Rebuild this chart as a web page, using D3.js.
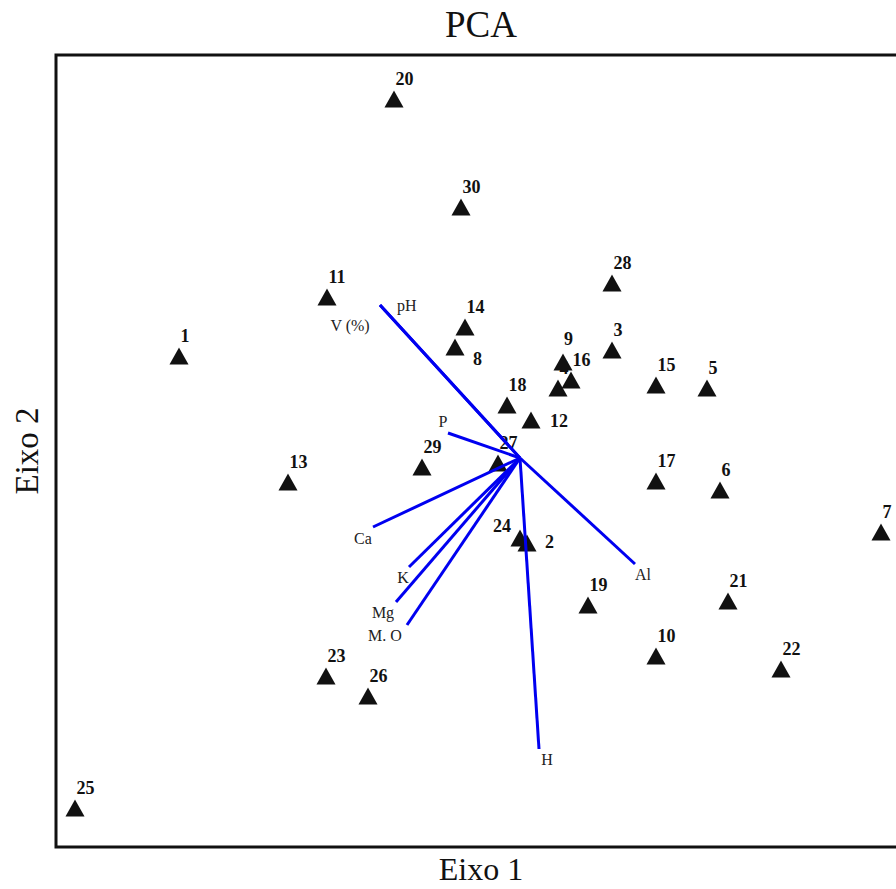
<!DOCTYPE html>
<html>
  <head>
    <meta charset="UTF-8">
    <title>PCA</title>
    <script src="https://d3js.org/d3.v7.min.js"></script>
    <style>
      body { margin: 0; background: #fff; }
      text { font-family: "Liberation Serif", "Times New Roman", serif; }
    </style>
  </head>
  <body>
    <div id="chart-container"></div>
  <script type="text/javascript">

    // Sample scores (Eixo 1, Eixo 2)
    const sampleIds = [1, 2, 3, 4, 5, 6, 7, 8, 9, 10,
                       11, 12, 13, 14, 15, 16, 17, 18, 19, 20,
                       21, 22, 23, 24, 25, 26, 27, 28, 29, 30];
    const axis1 = [-3.41, 0.07, 0.92, 0.38, 1.87, 2.00, 3.61, -0.65, 0.43, 1.36,
                   -1.93, 0.11, -2.32, -0.55, 1.36, 0.51, 1.36, -0.13, 0.68, -1.26,
                   2.08, 2.61, -1.94, 0.00, -4.45, -1.52, -0.22, 0.92, -0.98, -0.59];
    const axis2 = [1.02, -0.85, 1.08, 0.70, 0.70, -0.32, -0.74, 1.11, 0.96, -1.98,
                   1.61, 0.38, -0.24, 1.31, 0.73, 0.78, -0.23, 0.53, -1.47, 3.59,
                   -1.43, -2.11, -2.18, -0.80, -3.50, -2.38, -0.05, 1.75, -0.09, 2.51];

    // Soil variable loadings
    const variables = ["pH", "V (%)", "P", "Ca", "K", "Mg", "M. O", "H", "Al"];
    const load1 = [-1.40, -1.40, -0.72, -1.47, -1.11, -1.24, -1.13, 0.19, 1.15];
    const load2 = [1.53, 1.53, 0.25, -0.69, -1.09, -1.44, -1.67, -2.91, -1.06];

    const samples = sampleIds.map((id, i) => ({id: id, x: axis1[i], y: axis2[i]}));
    const vectors = variables.map((v, i) => ({name: v, x: load1[i], y: load2[i]}));

    // label placement (pixels), not data
    const pointLabelOffset = {8: [18, 18], 12: [19, 7], 24: [-27, -6], 2: [18, 5], 9: [1, -17]};
    const vectorLabelOffset = {
        "pH": [17, 6, "start"], "V (%)": [-30, 26, "middle"], "P": [-5, -6, "middle"],
        "Ca": [-10, 17, "middle"], "K": [-6, 16, "middle"], "Mg": [-13, 16, "middle"],
        "M. O": [-22, 16, "middle"], "H": [8, 16, "middle"], "Al": [8, 16, "middle"]
    };

    const width = 896;
    const height = 889;
    const box = {left: 56, right: 906, top: 55, bottom: 847};

    const x = d3.scaleLinear()
        .domain([-4.64, 3.86])
        .range([box.left, box.right]);

    const y = d3.scaleLinear()
        .domain([-3.89, 4.03])
        .range([box.bottom, box.top]);

    const svg = d3.select("#chart-container")
        .append("svg")
        .attr("width", width)
        .attr("height", height);

    // frame
    svg.append("rect")
        .attr("x", box.left)
        .attr("y", box.top)
        .attr("width", box.right - box.left)
        .attr("height", box.bottom - box.top)
        .attr("fill", "none")
        .attr("stroke", "#111")
        .attr("stroke-width", 3);

    // titles
    svg.append("text")
        .attr("x", (box.left + box.right) / 2)
        .attr("y", 37)
        .attr("text-anchor", "middle")
        .attr("font-size", 37)
        .attr("fill", "#111")
        .text("PCA");

    svg.append("text")
        .attr("x", (box.left + box.right) / 2)
        .attr("y", 880)
        .attr("text-anchor", "middle")
        .attr("font-size", 32)
        .attr("fill", "#111")
        .text("Eixo 1");

    svg.append("text")
        .attr("transform", `translate(38,${(box.top + box.bottom) / 2}) rotate(-90)`)
        .attr("text-anchor", "middle")
        .attr("font-size", 33)
        .attr("fill", "#111")
        .text("Eixo 2");

    // sample labels (drawn under the markers)
    svg.append("g")
        .selectAll("text")
        .data(samples)
        .join("text")
        .attr("x", d => x(d.x) + (pointLabelOffset[d.id] ? pointLabelOffset[d.id][0] : 1.5))
        .attr("y", d => y(d.y) + (pointLabelOffset[d.id] ? pointLabelOffset[d.id][1] : -14))
        .attr("font-size", 18)
        .attr("font-weight", "bold")
        .attr("fill", "#111")
        .text(d => d.id);

    // triangles
    const tri = "M-9.5,8.5L9.5,8.5L0,-8.5Z";
    svg.append("g")
        .selectAll("path")
        .data(samples)
        .join("path")
        .attr("d", tri)
        .attr("transform", d => `translate(${x(d.x)},${y(d.y)})`)
        .attr("fill", "#111");

    // loading vectors
    svg.append("g")
        .selectAll("line")
        .data(vectors)
        .join("line")
        .attr("x1", x(0))
        .attr("y1", y(0))
        .attr("x2", d => x(d.x))
        .attr("y2", d => y(d.y))
        .attr("stroke", "#0000f0")
        .attr("stroke-width", 3);

    svg.append("g")
        .selectAll("text")
        .data(vectors)
        .join("text")
        .attr("x", d => x(d.x) + vectorLabelOffset[d.name][0])
        .attr("y", d => y(d.y) + vectorLabelOffset[d.name][1])
        .attr("text-anchor", d => vectorLabelOffset[d.name][2])
        .attr("font-size", 16)
        .attr("fill", "#222")
        .text(d => d.name);

  </script>
  </body>
</html>
